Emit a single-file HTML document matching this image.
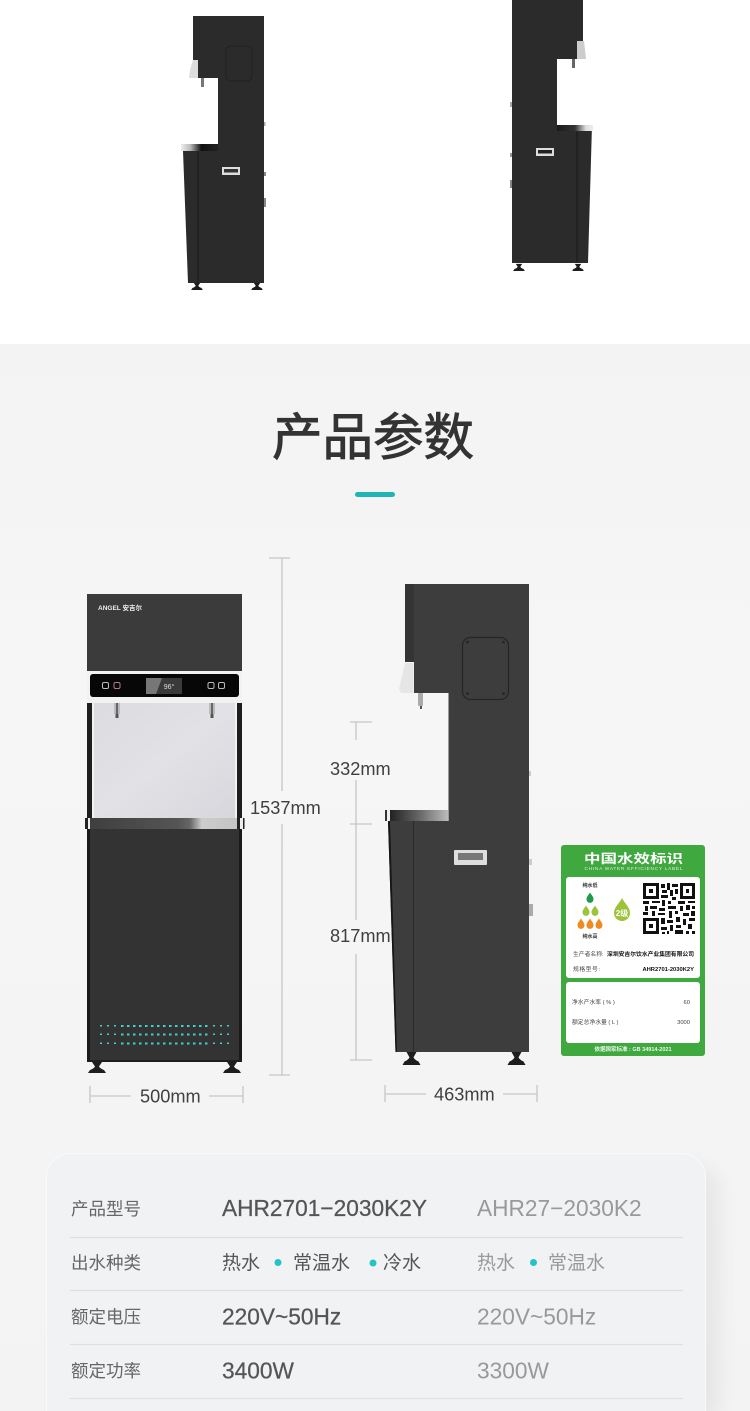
<!DOCTYPE html>
<html><head><meta charset="utf-8"><style>
html,body{margin:0;padding:0;background:#fff}
svg{display:block}
text{font-family:"Liberation Sans","Noto Sans CJK SC",sans-serif}
</style></head><body>
<svg width="750" height="1411" viewBox="0 0 750 1411" xmlns="http://www.w3.org/2000/svg">
<defs>
<linearGradient id="sh1" x1="0" x2="1" y1="0" y2="0"><stop offset="0" stop-color="#eee"/><stop offset=".25" stop-color="#bbb"/><stop offset=".55" stop-color="#111"/><stop offset="1" stop-color="#222"/></linearGradient>
<linearGradient id="sh2" x1="0" x2="1" y1="0" y2="0"><stop offset="0" stop-color="#1a1a1a"/><stop offset=".5" stop-color="#333"/><stop offset=".8" stop-color="#ddd"/><stop offset="1" stop-color="#eee"/></linearGradient>
<linearGradient id="sh3" x1="0" x2="1" y1="0" y2="0"><stop offset="0" stop-color="#222"/><stop offset=".5" stop-color="#666"/><stop offset="1" stop-color="#bbb"/></linearGradient>
<linearGradient id="sh4" x1="0" x2="1" y1="0" y2="0"><stop offset="0" stop-color="#3f3f3f"/><stop offset=".6" stop-color="#555"/><stop offset=".68" stop-color="#666"/><stop offset=".76" stop-color="#ccc"/><stop offset="1" stop-color="#c4c4c4"/></linearGradient>
<linearGradient id="inner" x1="0" x2="1" y1="0" y2="1"><stop offset="0" stop-color="#dcdce0"/><stop offset=".5" stop-color="#e2e2e6"/><stop offset="1" stop-color="#d6d6dc"/></linearGradient>
<linearGradient id="pg" x1="0" x2="0" y1="0" y2="1"><stop offset="0" stop-color="#f3f3f3"/><stop offset=".3" stop-color="#f6f6f6"/><stop offset="1" stop-color="#f3f3f3"/></linearGradient>
<filter id="cs" x="-10%" y="-10%" width="120%" height="120%"><feGaussianBlur stdDeviation="10"/></filter>
<path id="drop" d="M0-5.500C1.600-2.800 3.500-1.200 3.500 1.400A3.500 3.500 0 0 1-3.500 1.400C-3.500-1.200-1.600-2.800 0-5.500Z"/>
<path id="foot" d="M-9 0L-7-3Q-3-4.500-2-6.500L-5-11H5L2-6.500Q3-4.500 7-3L9 0Z" fill="#1d1d1d"/>
</defs>

<rect width="750" height="344" fill="#fff"/>
<rect y="344" width="750" height="1067" fill="url(#pg)"/>

<!-- top left machine -->
<path d="M193 16H264V283H188L183 151H218V78H193Z" fill="#2b2b2b"/>
<rect x="181" y="144" width="37" height="7" fill="url(#sh1)"/>
<line x1="198" y1="151" x2="198" y2="283" stroke="#1a1a1a"/>
<rect x="226" y="46" width="26" height="35" rx="5" fill="none" stroke="#222"/>
<path d="M193 60H198V78H189L190 70Z" fill="#ddd"/>
<rect x="201" y="78" width="3" height="9" fill="#777"/>
<rect x="222" y="167" width="18" height="8" fill="#ddd"/><rect x="224" y="169" width="14" height="3.500" fill="#333"/>
<use href="#foot" transform="translate(197 290) scale(.65)"/><use href="#foot" transform="translate(257 290) scale(.65)"/>
<rect x="264" y="122" width="1.500" height="4" fill="#aaa"/><rect x="264" y="172" width="2" height="4" fill="#888"/><rect x="264" y="198" width="2" height="9" fill="#888"/>

<!-- top right machine -->
<path d="M512 0H583V59H557V125H592L588 263H512Z" fill="#2b2b2b"/>
<rect x="557" y="125" width="36" height="6" fill="url(#sh2)"/>
<line x1="577" y1="131" x2="577" y2="263" stroke="#1a1a1a"/>
<path d="M577 41H584L586 59H577Z" fill="#ccc"/>
<rect x="572" y="59" width="3" height="9" fill="#666"/>
<rect x="536" y="148" width="18" height="8" fill="#ddd"/><rect x="538" y="150" width="14" height="3.500" fill="#222"/>
<use href="#foot" transform="translate(519 271) scale(.65)"/><use href="#foot" transform="translate(578 271) scale(.65)"/>
<rect x="510" y="102" width="2" height="5" fill="#aaa"/><rect x="510" y="153" width="2" height="4" fill="#999"/><rect x="510" y="180" width="2" height="8" fill="#888"/>

<!-- title -->
<text x="373" y="455" text-anchor="middle" font-size="50.500" fill="#333" stroke="#333" stroke-width=".9" style="font-family:'Noto Sans CJK SC',sans-serif">产品参数</text>
<rect x="355" y="492" width="40" height="5" rx="2.500" fill="#1fb5b5"/>

<!-- front machine -->
<rect x="87" y="594" width="155" height="77" fill="#3b3b3c"/>
<text x="98" y="610" font-size="6.500" fill="#eee" font-weight="700">ANGEL 安吉尔</text>
<rect x="87" y="671" width="155" height="32" fill="#f2f2f2"/>
<rect x="90" y="674" width="149" height="23" rx="3" fill="#070707"/>
<path d="M146 678H182V694H146Z" fill="#3a3a3a"/><path d="M146 678H162L156 694H146Z" fill="#777"/>
<text x="169" y="689" text-anchor="middle" font-size="7" fill="#ddd">96°</text>
<g fill="none" stroke-width="1"><rect x="102.500" y="682.500" width="6" height="6" rx="1.500" stroke="#bbb"/><rect x="114" y="682.500" width="6" height="6" rx="1.500" stroke="#b78"/><rect x="208" y="682.500" width="6" height="6" rx="1.500" stroke="#bbb"/><rect x="218.500" y="682.500" width="6" height="6" rx="1.500" stroke="#bbb"/></g>
<rect x="87" y="703" width="5" height="115" fill="#1e1e1e"/><rect x="237" y="703" width="5" height="115" fill="#1e1e1e"/>
<rect x="92" y="703" width="145" height="115" fill="url(#inner)"/>
<rect x="92" y="703" width="2" height="115" fill="#f2f2f2"/><rect x="235" y="703" width="2" height="115" fill="#f2f2f2"/>
<rect x="114" y="703" width="6" height="11" fill="#bbb"/><rect x="116" y="703" width="2" height="11" fill="#666"/><rect x="115.500" y="714" width="3" height="4" fill="#555"/>
<rect x="209" y="703" width="6" height="11" fill="#bbb"/><rect x="211" y="703" width="2" height="11" fill="#666"/><rect x="210.500" y="714" width="3" height="4" fill="#555"/>
<rect x="90" y="818" width="147" height="11" fill="url(#sh4)"/>
<rect x="85" y="818" width="3" height="11" fill="#222"/><rect x="88" y="818" width="2" height="11" fill="#eee"/>
<rect x="237" y="818" width="3" height="11" fill="#222"/><rect x="240" y="818" width="3" height="11" fill="#eee"/><rect x="243" y="818" width="1.500" height="11" fill="#222"/>
<rect x="87" y="829" width="155" height="233" fill="#333334"/>
<rect x="87" y="829" width="3" height="233" fill="#1a1a1a"/><rect x="239" y="829" width="3" height="233" fill="#1a1a1a"/><rect x="87" y="1060" width="155" height="2" fill="#1e1e1e"/>
<g fill="#39d6d0">
<path d="M100 1025h2v1.500h-2zM107 1025h2v1.500h-2zM114 1025h2v1.500h-2zM121 1025h2.500v2h-2.500zM127 1025h2.500v2h-2.500zM133 1025h2.500v2h-2.500zM139 1025h2.500v2h-2.500zM145 1025h2.500v2h-2.500zM151 1025h2.500v2h-2.500zM157 1025h2.500v2h-2.500zM163 1025h2.500v2h-2.500zM169 1025h2.500v2h-2.500zM175 1025h2.500v2h-2.500zM181 1025h2.500v2h-2.500zM187 1025h2.500v2h-2.500zM193 1025h2.500v2h-2.500zM199 1025h2.500v2h-2.500zM205 1025h2.500v2h-2.500zM213 1025h2v1.500h-2zM220 1025h2v1.500h-2zM227 1025h2v1.500h-2z"/>
<path d="M100 1033.500h2v1.500h-2zM107 1033.500h2v1.500h-2zM114 1033.500h2v1.500h-2zM121 1033.500h2.500v2h-2.500zM127 1033.500h2.500v2h-2.500zM133 1033.500h2.500v2h-2.500zM139 1033.500h2.500v2h-2.500zM145 1033.500h2.500v2h-2.500zM151 1033.500h2.500v2h-2.500zM157 1033.500h2.500v2h-2.500zM163 1033.500h2.500v2h-2.500zM169 1033.500h2.500v2h-2.500zM175 1033.500h2.500v2h-2.500zM181 1033.500h2.500v2h-2.500zM187 1033.500h2.500v2h-2.500zM193 1033.500h2.500v2h-2.500zM199 1033.500h2.500v2h-2.500zM205 1033.500h2.500v2h-2.500zM213 1033.500h2v1.500h-2zM220 1033.500h2v1.500h-2zM227 1033.500h2v1.500h-2z"/>
<path d="M100 1042.500h2v1.500h-2zM107 1042.500h2v1.500h-2zM114 1042.500h2v1.500h-2zM121 1042.500h2.500v2h-2.500zM127 1042.500h2.500v2h-2.500zM133 1042.500h2.500v2h-2.500zM139 1042.500h2.500v2h-2.500zM145 1042.500h2.500v2h-2.500zM151 1042.500h2.500v2h-2.500zM157 1042.500h2.500v2h-2.500zM163 1042.500h2.500v2h-2.500zM169 1042.500h2.500v2h-2.500zM175 1042.500h2.500v2h-2.500zM181 1042.500h2.500v2h-2.500zM187 1042.500h2.500v2h-2.500zM193 1042.500h2.500v2h-2.500zM199 1042.500h2.500v2h-2.500zM205 1042.500h2.500v2h-2.500zM213 1042.500h2v1.500h-2zM220 1042.500h2v1.500h-2zM227 1042.500h2v1.500h-2z"/>
</g>
<use href="#foot" transform="translate(97 1073)"/><use href="#foot" transform="translate(232 1073)"/>

<!-- side machine -->
<path d="M405 584H529V1052H395.500L388 821H448.500V693H414V662H405Z" fill="#3d3d3e"/>
<rect x="405" y="584" width="9" height="78" fill="#343435"/>
<path d="M388 821L395.500 1052H397L390 821Z" fill="#161616"/>
<line x1="413.500" y1="821" x2="413.500" y2="1052" stroke="#2a2a2a"/>
<rect x="385" y="810" width="2" height="11" fill="#333"/><rect x="387" y="810" width="3" height="11" fill="#eee"/>
<rect x="390" y="810" width="58" height="11" fill="url(#sh3)"/>
<rect x="462.500" y="637.500" width="46" height="62" rx="8" fill="none" stroke="#252525" stroke-width="1.200"/>
<g fill="#222"><circle cx="467.500" cy="642" r="1.300"/><circle cx="503.500" cy="642" r="1.300"/><circle cx="467.500" cy="693.500" r="1.300"/><circle cx="503.500" cy="693.500" r="1.300"/></g>
<path d="M405 663H413.500V693H401L399 689Z" fill="#e6e6e6"/>
<rect x="418" y="693" width="5" height="13" rx="1" fill="#aaa"/><rect x="420" y="706" width="2" height="3" fill="#555"/>
<rect x="454" y="850" width="33" height="15" rx="1" fill="#dedede"/><rect x="458" y="853" width="25" height="7" fill="#777"/>
<use href="#foot" transform="translate(411.500 1065) scale(1,1.180)"/><use href="#foot" transform="translate(516.500 1065) scale(1,1.180)"/>
<rect x="529" y="771" width="2" height="5" fill="#ccc"/><rect x="529" y="859" width="3" height="6" fill="#ccc"/><rect x="529" y="904" width="4" height="12" fill="#aaa"/>

<!-- dimensions -->
<g stroke="#c6c6c6" stroke-width="1.300" fill="none">
<path d="M269 558H290M282 558V791M282 824V1075M269 1075H290"/>
<path d="M350 722H372M356 722V740M356 780V920M350 824H372M356 954V1060M350 1060H372"/>
<path d="M90 1086V1103M90 1096H131M209 1096H243M243 1086V1103"/>
<path d="M385 1085V1102M385 1094H426M503 1094H537M537 1085V1102"/>
</g>
<g font-size="18.200" fill="#3f3f3f">
<text x="250" y="814">1537mm</text>
<text x="330" y="775">332mm</text>
<text x="330" y="942">817mm</text>
<text x="140" y="1102.500">500mm</text>
<text x="434" y="1100.500">463mm</text>
</g>

<!-- water label -->
<rect x="561" y="845" width="144" height="211" rx="3" fill="#3fa83f"/>
<rect x="566" y="877" width="134" height="101" rx="3" fill="#fff"/>
<rect x="566" y="982" width="134" height="61" rx="3" fill="#fff"/>
<text x="584" y="863" font-size="12.500" font-weight="700" fill="#fff" textLength="99" lengthAdjust="spacingAndGlyphs">中国水效标识</text>
<text x="584.500" y="870" font-size="4.800" fill="#dff0df" textLength="98">CHINA WATER EFFICIENCY LABEL</text>
<g font-size="5" font-weight="700" fill="#333" text-anchor="middle"><text x="590" y="887">纯水低</text><text x="590" y="938">纯水高</text></g>
<use href="#drop" x="590" y="898" fill="#1f9a4d"/>
<use href="#drop" x="586" y="911" fill="#9cc33a"/><use href="#drop" x="595" y="911" fill="#9cc33a"/>
<use href="#drop" x="581" y="924" fill="#ee8a1f"/><use href="#drop" x="590" y="924" fill="#ee8a1f"/><use href="#drop" x="599" y="924" fill="#ee8a1f"/>
<path d="M622 898C625 904 630 907 630 913A8 8 0 0 1 614 913C614 907 619 904 622 898Z" fill="#9cc33a"/>
<text x="622" y="916" text-anchor="middle" font-size="8" font-weight="700" fill="#fff">2级</text>
<g fill="#111">
<path fill-rule="evenodd" d="M643 883h16v16h-16zM646 886v10h10v-10zM680 883h15v16h-15zM683 886v10h9v-10zM643 918h16v16h-16zM646 921v10h10v-10z"/>
<rect x="649" y="889" width="4" height="4"/><rect x="686" y="889" width="3" height="4"/><rect x="649" y="924" width="4" height="4"/>
<path d="M661 884h4v4h-4zM667 883h3v7h-3zM672 884h6v3h-6zM662 890h5v3h-5zM670 890h3v6h-3zM675 889h3v5h-3zM661 895h7v3h-7zM672 897h4v3h-4zM643 901h6v3h-6zM652 901h8v2h-8zM662 900h3v6h-3zM668 901h3v3h-3zM678 901h7v3h-7zM688 901h7v2h-7zM645 906h3v5h-3zM650 906h7v3h-7zM659 908h6v3h-6zM668 906h8v3h-8zM680 906h3v5h-3zM686 905h4v5h-4zM692 906h3v3h-3zM643 912h5v3h-5zM652 911h3v5h-3zM658 913h7v2h-7zM669 911h3v7h-3zM675 911h3v3h-3zM683 913h6v3h-6zM691 911h4v5h-4zM661 918h4v6h-4zM667 920h6v3h-6zM676 917h4v5h-4zM683 919h3v6h-3zM689 918h6v3h-6zM661 927h6v3h-6zM670 925h3v6h-3zM676 925h5v3h-5zM688 924h4v5h-4zM662 932h3v2h-3zM667 931h2v3h-2zM675 930h8v4h-8zM686 931h3v3h-3zM692 931h3v3h-3z"/>
</g>
<g font-size="5.800" fill="#444">
<text x="573" y="956">生产者名称:</text>
<text x="694" y="956" text-anchor="end" font-weight="700" fill="#111">深圳安吉尔饮水产业集团有限公司</text>
<text x="573" y="971" textLength="27">规格型号:</text>
<text x="694" y="971" text-anchor="end" font-weight="700" fill="#111">AHR2701-2030K2Y</text>
<text x="572" y="1004">净水产水率 ( % )</text>
<text x="690" y="1004" text-anchor="end">60</text>
<text x="572" y="1024">额定总净水量 ( L )</text>
<text x="690" y="1024" text-anchor="end">3000</text>
</g>
<text x="633" y="1051" text-anchor="middle" font-size="5.500" font-weight="700" fill="#eaf6ea">依据国家标准 : GB 34914-2021</text>

<!-- card -->
<rect x="60" y="1165" width="660" height="260" rx="24" fill="#000" opacity=".05" filter="url(#cs)"/>
<rect x="46.500" y="1153.500" width="659" height="280" rx="24" fill="#f1f2f4" stroke="#fafafa"/>
<g stroke="#dedfe1" stroke-width="1.200"><line x1="70" y1="1237.500" x2="683" y2="1237.500"/><line x1="70" y1="1290.500" x2="683" y2="1290.500"/><line x1="70" y1="1344.500" x2="683" y2="1344.500"/><line x1="70" y1="1398.500" x2="683" y2="1398.500"/></g>
<g font-size="17.500" fill="#666" style="font-family:'Noto Sans CJK SC',sans-serif">
<text x="71" y="1215">产品型号</text><text x="71" y="1269">出水种类</text><text x="71" y="1323">额定电压</text><text x="71" y="1377">额定功率</text>
</g>
<g font-size="22.700" fill="#555" stroke="#555" stroke-width=".25">
<text x="222" y="1216">AHR2701−2030K2Y</text>
<text x="222" y="1324.500">220V~50Hz</text>
<text x="222" y="1378.500">3400W</text>
</g>
<g font-size="22.700" fill="#999">
<text x="477" y="1216">AHR27−2030K2</text>
<text x="477" y="1324.500">220V~50Hz</text>
<text x="477" y="1378.500">3300W</text>
</g>
<g font-size="19" style="font-family:'Noto Sans CJK SC',sans-serif">
<g fill="#555"><text x="222" y="1269">热水</text><text x="293" y="1269">常温水</text><text x="383" y="1269">冷水</text></g>
<g fill="#999"><text x="477" y="1269">热水</text><text x="548" y="1269">常温水</text></g>
</g>
<g fill="#22c4c4"><circle cx="278" cy="1262.500" r="3.500"/><circle cx="373" cy="1263" r="3.500"/><circle cx="533.500" cy="1262.500" r="3.500"/></g>
</svg>
</body></html>
